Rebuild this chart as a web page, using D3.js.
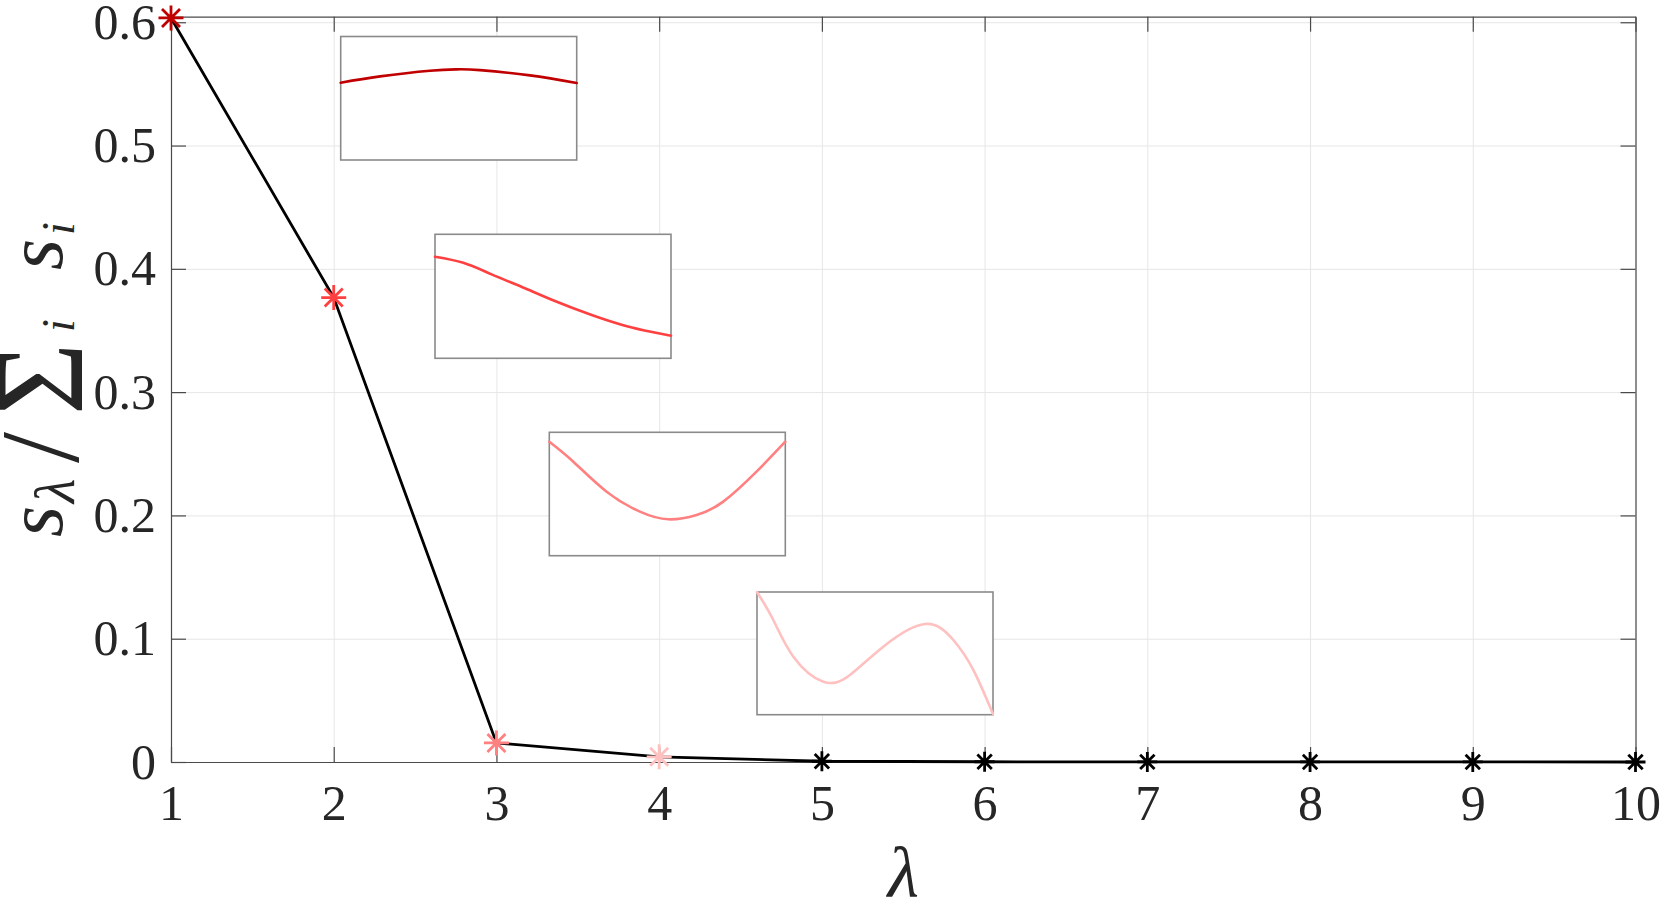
<!DOCTYPE html>
<html>
<head>
<meta charset="utf-8">
<script src="https://cdn.jsdelivr.net/npm/d3@7"></script>
<style>
  html, body { margin: 0; padding: 0; background: #ffffff; }
  svg { display: block; }
</style>
</head>
<body>
<svg id="chart" width="1661" height="907"></svg>
<script>
// ---------------- data ----------------
const lambdas = [1, 2, 3, 4, 5, 6, 7, 8, 9, 10];
const sNormalized = [0.6035, 0.3767, 0.0155, 0.0042, 0.0006, 0.0002, 0.0001, 0.00005, 0.00003, 0.00002];
const markerColors = ["#c00000", "#ff4040", "#ff8080", "#ffc0c0", "#000000", "#000000", "#000000", "#000000", "#000000", "#000000"];
const xTicks = [1, 2, 3, 4, 5, 6, 7, 8, 9, 10];
const xTickLabels = ["1", "2", "3", "4", "5", "6", "7", "8", "9", "10"];
const yTicks = [0, 0.1, 0.2, 0.3, 0.4, 0.5, 0.6];
const yTickLabels = ["0", "0.1", "0.2", "0.3", "0.4", "0.5", "0.6"];
const yMax = 0.6045;

// mode shapes shown in the insets (t along the domain, v normalised inset height)
const mode1T = [0.0, 0.167, 0.378, 0.491, 0.590, 0.802, 1.0];
const mode1V = [0.626, 0.677, 0.723, 0.734, 0.728, 0.685, 0.623];
const mode2T = [0.0, 0.120, 0.240, 0.381, 0.508, 0.664, 0.805, 0.920, 1.0];
const mode2V = [0.819, 0.770, 0.677, 0.565, 0.462, 0.349, 0.263, 0.212, 0.182];
const mode3T = [0.0, 0.102, 0.243, 0.384, 0.504, 0.624, 0.737, 0.878, 1.0];
const mode3V = [0.924, 0.762, 0.519, 0.357, 0.295, 0.330, 0.438, 0.681, 0.924];
const mode4T = [0.0, 0.069, 0.154, 0.281, 0.394, 0.535, 0.712, 0.832, 0.917, 1.0];
const mode4V = [1.0, 0.772, 0.473, 0.269, 0.324, 0.554, 0.739, 0.609, 0.364, 0.006];
const modeColors = ["#c00000", "#ff4040", "#ff8080", "#ffc0c0"];

// ---------------- layout ----------------
const plot = { left: 171, right: 1635.5, top: 16.7, bottom: 762 };
const insetBoxes = [
  { x: 340.7, y: 36.5, w: 236, h: 123.5 },
  { x: 435,   y: 234.3, w: 236, h: 124 },
  { x: 549.3, y: 432.3, w: 236, h: 123.4 },
  { x: 757,   y: 592,   w: 236, h: 122.7 }
];
const FONT = "'Liberation Serif', 'Times New Roman', serif";
const axisColor = "#4a4a4a";
const gridColor = "#e6e6e6";

const svg = d3.select("#chart");
const x = d3.scaleLinear().domain([1, 10]).range([plot.left, plot.right]);
const y = d3.scaleLinear().domain([0, yMax]).range([plot.bottom, plot.top]);
const W = plot.right - plot.left, H = plot.bottom - plot.top;

// grid
svg.append("g")
  .attr("transform", `translate(0,${plot.bottom})`)
  .call(d3.axisBottom(x).tickValues(xTicks).tickSize(-H).tickFormat(""))
  .call(g => g.select(".domain").remove())
  .call(g => g.selectAll("line").attr("stroke", gridColor).attr("stroke-width", 1));
svg.append("g")
  .attr("transform", `translate(${plot.left},0)`)
  .call(d3.axisLeft(y).tickValues(yTicks).tickSize(-W).tickFormat(""))
  .call(g => g.select(".domain").remove())
  .call(g => g.selectAll("line").attr("stroke", gridColor).attr("stroke-width", 1));

// axes
function styleAxis(g) {
  g.select(".domain").attr("stroke", axisColor).attr("stroke-width", 1.2);
  g.selectAll(".tick line").attr("stroke", axisColor).attr("stroke-width", 1.2);
  g.selectAll("text").attr("font-family", FONT).attr("font-size", 50).attr("fill", "#262626");
}
svg.append("g")
  .attr("transform", `translate(0,${plot.bottom})`)
  .call(d3.axisBottom(x).tickValues(xTicks).tickFormat((d, i) => xTickLabels[i])
        .tickSizeInner(-15).tickSizeOuter(0).tickPadding(22))
  .call(styleAxis);
svg.append("g")
  .attr("transform", `translate(0,${plot.top})`)
  .call(d3.axisTop(x).tickValues(xTicks).tickFormat("").tickSizeInner(-15).tickSizeOuter(0))
  .call(styleAxis);
svg.append("g")
  .attr("transform", `translate(${plot.left},0)`)
  .call(d3.axisLeft(y).tickValues(yTicks).tickFormat((d, i) => yTickLabels[i])
        .tickSizeInner(-15).tickSizeOuter(0).tickPadding(15))
  .call(styleAxis);
svg.append("g")
  .attr("transform", `translate(${plot.right},0)`)
  .call(d3.axisRight(y).tickValues(yTicks).tickFormat("").tickSizeInner(-15).tickSizeOuter(0))
  .call(styleAxis);

// insets
const modes = [
  { t: mode1T, v: mode1V }, { t: mode2T, v: mode2V },
  { t: mode3T, v: mode3V }, { t: mode4T, v: mode4V }
];
modes.forEach((m, k) => {
  const b = insetBoxes[k];
  const ix = d3.scaleLinear().domain([0, 1]).range([b.x, b.x + b.w]);
  const iy = d3.scaleLinear().domain([0, 1]).range([b.y + b.h, b.y]);
  const g = svg.append("g");
  g.append("rect").attr("x", b.x).attr("y", b.y).attr("width", b.w).attr("height", b.h)
    .attr("fill", "#ffffff").attr("stroke", "#8a8a8a").attr("stroke-width", 1.6);
  const pts = m.t.map((t, i) => [t, m.v[i]]);
  g.append("path")
    .attr("d", d3.line().x(d => ix(d[0])).y(d => iy(d[1])).curve(d3.curveNatural)(pts))
    .attr("fill", "none").attr("stroke", modeColors[k]).attr("stroke-width", 2.6)
    .attr("stroke-linecap", "round");
});

// main line
const data = lambdas.map((l, i) => ({ l, s: sNormalized[i], c: markerColors[i] }));
svg.append("path")
  .attr("d", d3.line().x(d => x(d.l)).y(d => y(d.s))(data))
  .attr("fill", "none").attr("stroke", "#000").attr("stroke-width", 2.8);

// asterisk markers
function asterisk(r) {
  const a = r * 0.72;
  return `M${-r},0L${r},0M0,${-r}L0,${r}M${-a},${-a}L${a},${a}M${-a},${a}L${a},${-a}`;
}
svg.append("g").selectAll("path").data(data).join("path")
  .attr("transform", d => `translate(${x(d.l)},${y(d.s)})`)
  .attr("d", d => asterisk(d.c === "#000000" ? 10 : 12.5))
  .attr("fill", "none").attr("stroke", d => d.c).attr("stroke-width", 2.8);

// x label
svg.append("text")
  .attr("x", (plot.left + plot.right) / 2).attr("y", 897)
  .attr("text-anchor", "middle").attr("font-family", FONT)
  .attr("font-style", "italic").attr("font-size", 72).attr("fill", "#262626")
  .text("λ");

// y label  s_λ / Σ_i s_i
const yl = svg.append("text")
  .attr("transform", "translate(62,375) rotate(-90)")
  .attr("font-family", FONT).attr("fill", "#262626");
yl.append("tspan").attr("x", -162).attr("y", 0).attr("font-style", "italic").attr("font-size", 80).text("s");
yl.append("tspan").attr("x", -128).attr("y", 12).attr("font-style", "italic").attr("font-size", 56).text("λ");
yl.append("tspan").attr("x", -88).attr("y", 16).attr("font-size", 112).text("/");
yl.append("tspan").attr("x", -40).attr("y", 20).attr("font-size", 124).text("Σ");
yl.append("tspan").attr("x", 43).attr("y", 12).attr("font-style", "italic").attr("font-size", 46).text("i");
yl.append("tspan").attr("x", 105).attr("y", 0).attr("font-style", "italic").attr("font-size", 80).text("s");
yl.append("tspan").attr("x", 140).attr("y", 12).attr("font-style", "italic").attr("font-size", 46).text("i");
</script>
</body>
</html>
